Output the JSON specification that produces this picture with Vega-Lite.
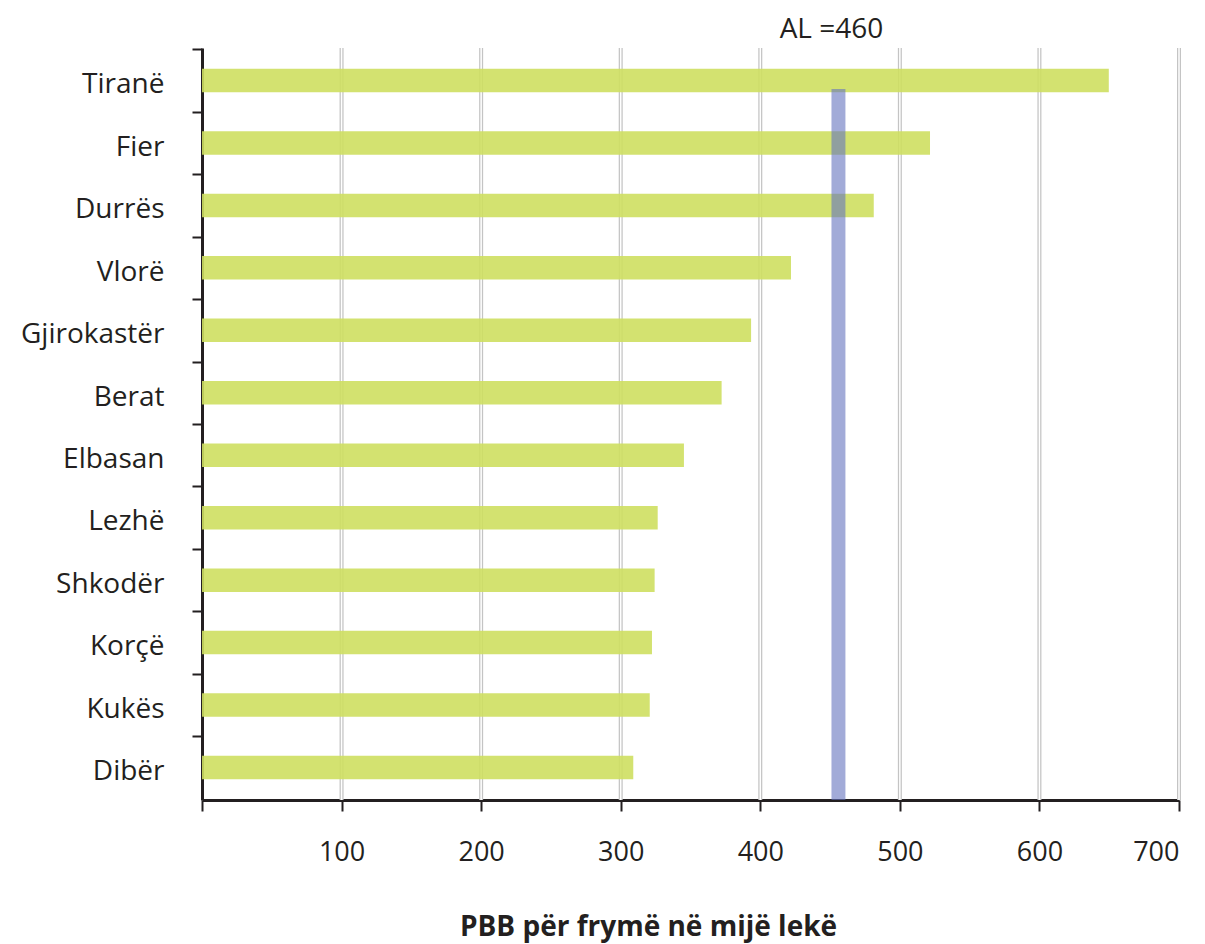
{
  "$schema": "https://vega.github.io/schema/vega-lite/v6.json",
  "width": 977,
  "height": 752,
  "autosize": {"type": "none"},
  "padding": {"left": 202, "top": 48, "right": 26, "bottom": 144},
  "background": "white",
  "config": {"view": {"stroke": null}, "font": "Open Sans"},
  "datasets": {
    "regions": [
      {"region": "Tiranë", "value": 649.7},
      {"region": "Fier", "value": 521.6},
      {"region": "Durrës", "value": 481.3},
      {"region": "Vlorë", "value": 422.0},
      {"region": "Gjirokastër", "value": 393.4},
      {"region": "Berat", "value": 372.3},
      {"region": "Elbasan", "value": 345.3},
      {"region": "Lezhë", "value": 326.5},
      {"region": "Shkodër", "value": 324.3},
      {"region": "Korçë", "value": 322.4},
      {"region": "Kukës", "value": 320.8},
      {"region": "Dibër", "value": 309.0}
    ],
    "grid": [{"v": 100}, {"v": 200}, {"v": 300}, {"v": 400}, {"v": 500}, {"v": 600}, {"v": 700}],
    "al": [{"label": "AL =460", "start": 451, "end": 461}]
  },
  "layer": [
    {
      "data": {"name": "grid"},
      "mark": {"type": "rule", "stroke": "#c4c4c4", "strokeWidth": 4},
      "encoding": {
        "x": {
          "field": "v",
          "type": "quantitative",
          "scale": {"domain": [0, 700], "nice": false, "zero": true},
          "axis": {
            "values": [0, 100, 200, 300, 400, 500, 600, 700],
            "labelExpr": "datum.value == 0 ? '' : datum.label",
            "grid": false,
            "domainColor": "#231f20",
            "domainWidth": 3,
            "tickColor": "#231f20",
            "tickWidth": 2,
            "tickSize": 11,
            "labelFont": "Open Sans",
            "labelFontSize": 27,
            "labelColor": "#231f20",
            "labelPadding": 28,
            "title": "PBB për frymë në mijë lekë",
            "titleFont": "Open Sans",
            "titleFontSize": 28,
            "titleFontWeight": "bold",
            "titleColor": "#231f20",
            "titleX": 446,
            "titleY": 135,
            "titleAlign": "center",
            "titleBaseline": "alphabetic"
          }
        }
      }
    },
    {
      "data": {"name": "grid"},
      "mark": {"type": "rule", "stroke": "#ffffff", "strokeWidth": 1.5},
      "encoding": {"x": {"field": "v", "type": "quantitative"}}
    },
    {
      "data": {"name": "regions"},
      "mark": {"type": "bar", "color": "#cedf60", "opacity": 0.9},
      "encoding": {
        "y": {
          "field": "region",
          "type": "nominal",
          "sort": null,
          "scale": {
            "domain": ["Tiranë", "Fier", "Durrës", "Vlorë", "Gjirokastër", "Berat", "Elbasan", "Lezhë", "Shkodër", "Korçë", "Kukës", "Dibër"],
            "paddingInner": 0.624,
            "paddingOuter": 0.332
          },
          "axis": {
            "title": null,
            "tickOffset": -31.2,
            "labelOffset": 35.5,
            "domainColor": "#231f20",
            "domainWidth": 3,
            "tickColor": "#231f20",
            "tickWidth": 2,
            "tickSize": 10,
            "labelFont": "Open Sans",
            "labelFontSize": 28,
            "labelColor": "#231f20",
            "labelPadding": 28
          }
        },
        "x": {"field": "value", "type": "quantitative"}
      }
    },
    {
      "data": {"name": "al"},
      "mark": {"type": "rect", "color": "rgb(100,115,190)", "opacity": 0.6},
      "encoding": {
        "x": {"field": "start", "type": "quantitative"},
        "x2": {"field": "end"},
        "y": {"datum": "Tiranë", "type": "nominal", "bandPosition": 0.86},
        "y2": {"datum": "Dibër", "bandPosition": 1.88}
      }
    },
    {
      "data": {"name": "al"},
      "mark": {"type": "text", "fontSize": 28, "font": "Open Sans", "dy": -42, "baseline": "alphabetic", "align": "center", "color": "#231f20"},
      "encoding": {
        "x": {"field": "start", "type": "quantitative"},
        "y": {"datum": "Tiranë", "type": "nominal"},
        "text": {"field": "label"}
      }
    }
  ]
}
